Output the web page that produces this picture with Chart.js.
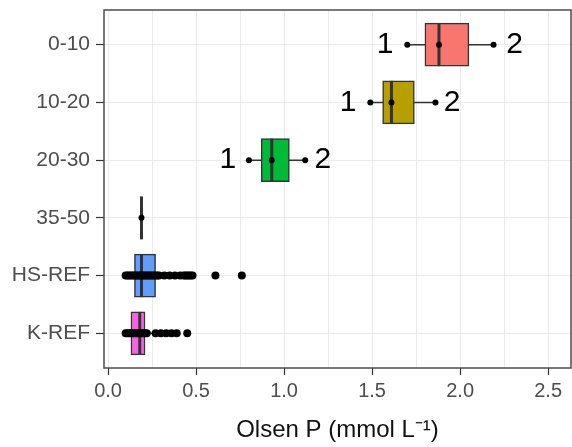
<!DOCTYPE html>
<html>
<head>
<meta charset="utf-8">
<script src="https://cdn.jsdelivr.net/npm/chart.js@4"></script>
<style>
  html, body { margin: 0; padding: 0; background: #fff; }
</style>
</head>
<body>
<canvas id="chart" width="572" height="447"></canvas>
<script>
// ──────────────────────────────────────────────
// Olsen P by depth / reference group — horizontal box plots
// ──────────────────────────────────────────────
const groups = ['0-10', '10-20', '20-30', '35-50', 'HS-REF', 'K-REF'];
const fills = ['#F8766D', '#B79F00', '#00BA38', '#00BFC4', '#619CFF', '#F564E3'];

// box stats (mmol L-1)
const q1 = [1.80, 1.56, 0.87, 0.19, 0.15, 0.13];
const median = [1.88, 1.61, 0.93, 0.19, 0.19, 0.18];
const q3 = [2.05, 1.74, 1.03, 0.19, 0.27, 0.21];
const whiskLo = [1.70, 1.49, 0.80, 0.19, 0.10, 0.10];
const whiskHi = [2.19, 1.86, 1.12, 0.19, 0.43, 0.33];

// raw observations per group
const pts0_10 = [1.70, 1.88, 2.19];
const pts10_20 = [1.49, 1.61, 1.86];
const pts20_30 = [0.80, 0.93, 1.12];
const pts35_50 = [0.19];
const ptsHS = [0.10, 0.11, 0.12, 0.13, 0.14, 0.15, 0.16, 0.17, 0.18, 0.19, 0.20, 0.21,
  0.22, 0.23, 0.24, 0.25, 0.26, 0.27, 0.28, 0.29, 0.32, 0.35, 0.38, 0.41, 0.43, 0.44,
  0.45, 0.46, 0.47, 0.48, 0.61, 0.76];
const ptsK = [0.10, 0.11, 0.12, 0.13, 0.14, 0.15, 0.16, 0.17, 0.18, 0.19, 0.20, 0.21,
  0.22, 0.27, 0.30, 0.33, 0.36, 0.39, 0.45];
const points = [pts0_10, pts10_20, pts20_30, pts35_50, ptsHS, ptsK];

// "1" / "2" annotations next to the depth boxes
const annotText = ['1', '2', '1', '2', '1', '2'];
const annotRow = [0, 0, 1, 1, 2, 2];
const annotX = [1.574, 2.31, 1.364, 1.955, 0.68, 1.22];

// axis ticks
const xMajor = [0, 0.5, 1, 1.5, 2, 2.5];
const xGrid = [0, 0.25, 0.5, 0.75, 1, 1.25, 1.5, 1.75, 2, 2.25, 2.5];

const whiskerSets = groups.map((g, i) => ({
  type: 'scatter',
  showLine: true,
  data: [{ x: whiskLo[i], y: i }, { x: whiskHi[i], y: i }],
  borderColor: '#333',
  borderWidth: 1.5,
  pointRadius: 0,
  order: 4,
}));

const boxSet = {
  type: 'bar',
  data: groups.map((g, i) => ({ x: [q1[i], q3[i]], y: i })),
  backgroundColor: fills,
  borderColor: '#333',
  borderWidth: 1.5,
  borderSkipped: false,
  barThickness: 43,
  order: 3,
};

const medianSet = {
  type: 'scatter',
  data: groups.map((g, i) => ({ x: median[i], y: i })),
  pointStyle: 'line',
  pointRotation: 90,
  pointRadius: 21.5,
  pointBorderWidth: 3,
  pointBorderColor: '#333',
  order: 2,
};

const pointSets = points.map((vals, i) => ({
  type: 'scatter',
  data: vals.map(v => ({ x: v, y: i })),
  pointRadius: i >= 4 ? 4 : 3,
  pointBackgroundColor: '#000',
  pointBorderWidth: 0,
  order: 1,
}));

const panelFrame = {
  id: 'panelFrame',
  afterDraw(chart) {
    const { ctx, chartArea: a } = chart;
    ctx.save();
    ctx.strokeStyle = '#4d4d4d';
    ctx.lineWidth = 1.5;
    ctx.strokeRect(a.left, a.top, a.right - a.left, a.bottom - a.top);
    ctx.restore();
  },
};

const groupLabels = {
  id: 'groupLabels',
  afterDatasetsDraw(chart) {
    const { ctx, scales: { x, y } } = chart;
    ctx.save();
    ctx.font = '30px "Liberation Sans", Arial, sans-serif';
    ctx.fillStyle = '#000';
    ctx.textAlign = 'center';
    ctx.textBaseline = 'middle';
    annotText.forEach((t, k) => {
      ctx.fillText(t, x.getPixelForValue(annotX[k]), y.getPixelForValue(annotRow[k]));
    });
    ctx.restore();
  },
};

Chart.defaults.font.family = '"Liberation Sans", Arial, sans-serif';

new Chart(document.getElementById('chart'), {
  type: 'bar',
  data: { datasets: [...whiskerSets, boxSet, medianSet, ...pointSets] },
  options: {
    indexAxis: 'y',
    responsive: false,
    animation: false,
    layout: { autoPadding: false, padding: { top: 10, right: 1, left: 0, bottom: 0 } },
    plugins: { legend: { display: false }, tooltip: { enabled: false } },
    scales: {
      x: {
        type: 'linear', min: -0.023, max: 2.63, offset: false,
        afterBuildTicks: s => { s.ticks = xGrid.map(v => ({ value: v })); },
        afterFit: s => { s.height = 79; s.paddingLeft = 0; s.paddingRight = 0; },
        grid: {
          color: '#ebebeb', offset: false, tickLength: 7, tickWidth: 1.2,
          tickColor: c => (xMajor.includes(c.tick.value) ? '#333' : 'rgba(0,0,0,0)'),
        },
        border: { display: false },
        ticks: {
          autoSkip: false, maxRotation: 0, padding: 4, color: '#4d4d4d', font: { size: 20 },
          callback: v => (xMajor.includes(v) ? v.toFixed(1) : ''),
        },
        title: { display: true, text: 'Olsen P (mmol L⁻¹)', color: '#111', font: { size: 24 }, padding: { top: 4, bottom: 2 } },
      },
      y: {
        type: 'linear', min: -0.6, max: 5.6, reverse: true, offset: false,
        afterBuildTicks: s => { s.ticks = groups.map((g, i) => ({ value: i })); },
        afterFit: s => { s.width = 104; s.paddingTop = 0; s.paddingBottom = 0; },
        grid: { color: '#ebebeb', offset: false, tickLength: 8, tickWidth: 1.2, tickColor: '#333' },
        border: { display: false },
        ticks: { autoSkip: false, padding: 6, color: '#4d4d4d', font: { size: 21 }, callback: v => groups[v] },
      },
    },
  },
  plugins: [panelFrame, groupLabels],
});
</script>
</body>
</html>
